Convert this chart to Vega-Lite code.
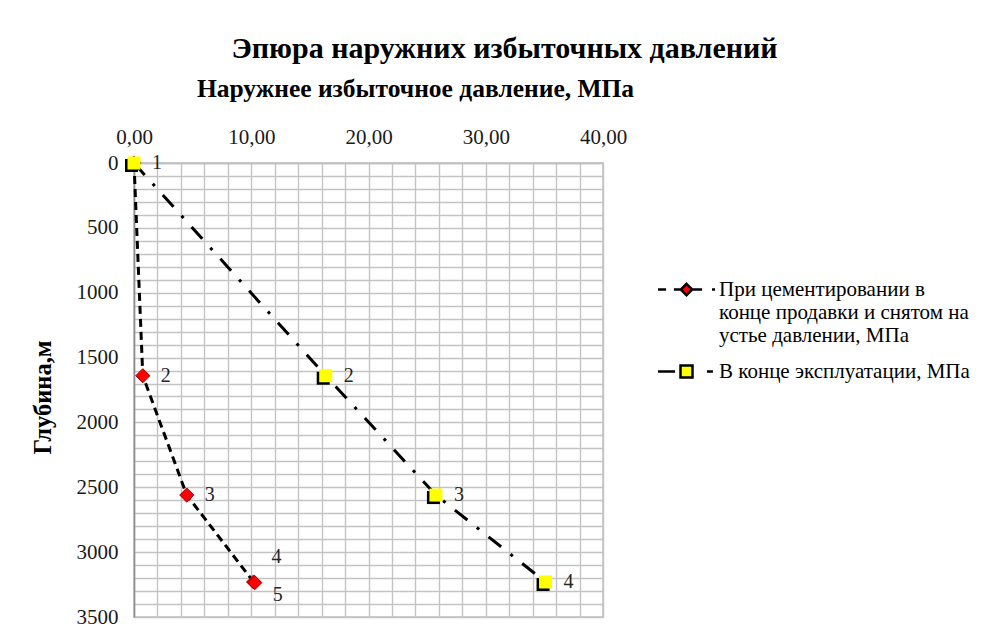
{
  "$schema": "https://vega.github.io/schema/vega-lite/v6.json",
  "autosize": {"type": "none"},
  "width": 469,
  "height": 454,
  "padding": {"left": 134, "top": 163, "right": 396, "bottom": 25},
  "background": "white",
  "title": {
    "text": "Эпюра наружних избыточных давлений",
    "font": "Liberation Serif",
    "fontSize": 30,
    "fontWeight": "bold",
    "color": "black",
    "anchor": "middle",
    "dx": 136,
    "offset": 12
  },
  "datasets": {
    "profile": [
      {"series": "При цементировании в конце продавки и снятом на устье давлении, МПа", "point": 1, "pressure": 0, "depth": 0},
      {"series": "При цементировании в конце продавки и снятом на устье давлении, МПа", "point": 2, "pressure": 0.75, "depth": 1640, "label": "2"},
      {"series": "При цементировании в конце продавки и снятом на устье давлении, МПа", "point": 3, "pressure": 4.5, "depth": 2560, "label": "3"},
      {"series": "При цементировании в конце продавки и снятом на устье давлении, МПа", "point": 4, "pressure": 10.2, "depth": 3230, "label": "4"},
      {"series": "При цементировании в конце продавки и снятом на устье давлении, МПа", "point": 5, "pressure": 10.3, "depth": 3235, "label": "5"},
      {"series": "В конце эксплуатации, МПа", "point": 1, "pressure": 0, "depth": 0, "label": "1"},
      {"series": "В конце эксплуатации, МПа", "point": 2, "pressure": 16.35, "depth": 1640, "label": "2"},
      {"series": "В конце эксплуатации, МПа", "point": 3, "pressure": 25.75, "depth": 2560, "label": "3"},
      {"series": "В конце эксплуатации, МПа", "point": 4, "pressure": 35.1, "depth": 3230, "label": "4"}
    ]
  },
  "data": {"name": "profile"},
  "encoding": {
    "x": {
      "field": "pressure",
      "type": "quantitative",
      "scale": {"domain": [0, 40], "nice": false, "zero": false},
      "axis": {
        "orient": "top",
        "title": "Наружнее избыточное давление, МПа",
        "titleFont": "Liberation Serif",
        "titleFontSize": 25.5,
        "titleFontWeight": "bold",
        "titleColor": "black",
        "titleAngle": 0,
        "titleAlign": "center",
        "titleBaseline": "middle",
        "titleX": 281,
        "titleY": -75,
        "values": [0, 2, 4, 6, 8, 10, 12, 14, 16, 18, 20, 22, 24, 26, 28, 30, 32, 34, 36, 38, 40],
        "format": ".2f",
        "labelExpr": "datum.value % 10 === 0 ? datum.label : ''",
        "labelOverlap": false,
        "labelFlush": false,
        "labelPadding": 16,
        "ticks": false,
        "domain": true,
        "domainColor": "#bfbfbf",
        "domainWidth": 1.5,
        "grid": true
      }
    },
    "y": {
      "field": "depth",
      "type": "quantitative",
      "scale": {"domain": [0, 3500], "reverse": true, "nice": false, "zero": false},
      "axis": {
        "title": "Глубина,м",
        "titleFont": "Liberation Serif",
        "titleFontSize": 24.5,
        "titleFontWeight": "bold",
        "titleColor": "black",
        "titleAngle": -90,
        "titleAlign": "center",
        "titleBaseline": "middle",
        "titleX": -91,
        "titleY": 234,
        "values": [0, 100, 200, 300, 400, 500, 600, 700, 800, 900, 1000, 1100, 1200, 1300, 1400, 1500, 1600, 1700, 1800, 1900, 2000, 2100, 2200, 2300, 2400, 2500, 2600, 2700, 2800, 2900, 3000, 3100, 3200, 3300, 3400, 3500],
        "format": "d",
        "labelExpr": "datum.value % 500 === 0 ? datum.label : ''",
        "labelOverlap": false,
        "labelPadding": 16,
        "ticks": false,
        "domain": true,
        "domainColor": "#8c8c8c",
        "domainWidth": 1.5,
        "grid": true
      }
    }
  },
  "layer": [
    {
      "transform": [{"filter": "false"}],
      "mark": {"type": "point", "filled": true, "opacity": 1},
      "encoding": {
        "color": {
          "field": "series",
          "type": "nominal",
          "scale": {
            "domain": ["При цементировании в конце продавки и снятом на устье давлении, МПа", "В конце эксплуатации, МПа"],
            "range": ["#ff0000", "#ffff00"]
          },
          "legend": {
            "orient": "none",
            "legendX": 520,
            "legendY": 116,
            "title": null,
            "padding": 0,
            "labelFont": "Liberation Serif",
            "labelFontSize": 21,
            "labelColor": "black",
            "labelLimit": 0,
            "labelBaseline": "middle",
            "labelLineHeight": 23.5,
            "labelOffset": 22,
            "labelExpr": "datum.value === 'При цементировании в конце продавки и снятом на устье давлении, МПа' ? ['При цементировании в', 'конце продавки и снятом на', 'устье давлении, МПа'] : datum.label",
            "symbolSize": 144,
            "symbolOffset": 22,
            "symbolStrokeWidth": 2.5,
            "symbolStrokeColor": "black",
            "rowPadding": 14
          }
        },
        "shape": {
          "field": "series",
          "type": "nominal",
          "scale": {
            "domain": ["При цементировании в конце продавки и снятом на устье давлении, МПа", "В конце эксплуатации, МПа"],
            "range": [
              "M-4.75,0H-3.4M-2.1,0H-1M0.9,0H2.6M4.25,0H4.75M0,-0.95L0.95,0L0,0.95L-0.95,0Z",
              "M-4.75,0H-1.9M3.4,0H4.4M-1,-1H1V1H-1Z"
            ]
          },
          "legend": {
            "orient": "none",
            "legendX": 520,
            "legendY": 116,
            "title": null,
            "padding": 0,
            "labelFont": "Liberation Serif",
            "labelFontSize": 21,
            "labelColor": "black",
            "labelLimit": 0,
            "labelBaseline": "middle",
            "labelLineHeight": 23.5,
            "labelOffset": 22,
            "labelExpr": "datum.value === 'При цементировании в конце продавки и снятом на устье давлении, МПа' ? ['При цементировании в', 'конце продавки и снятом на', 'устье давлении, МПа'] : datum.label",
            "symbolSize": 144,
            "symbolOffset": 22,
            "symbolStrokeWidth": 2.5,
            "symbolStrokeColor": "black",
            "rowPadding": 14
          }
        }
      }
    },
    {
      "transform": [{"filter": "datum.series === 'При цементировании в конце продавки и снятом на устье давлении, МПа'"}],
      "mark": {"type": "line", "color": "black", "strokeWidth": 3, "strokeDash": [8, 5]},
      "encoding": {"order": {"field": "depth", "type": "quantitative"}}
    },
    {
      "transform": [{"filter": "datum.series === 'В конце эксплуатации, МПа'"}],
      "mark": {"type": "line", "color": "black", "strokeWidth": 3, "strokeDash": [16, 12, 3, 12]},
      "encoding": {"order": {"field": "depth", "type": "quantitative"}}
    },
    {
      "transform": [{"filter": "datum.series === 'При цементировании в конце продавки и снятом на устье давлении, МПа'"}],
      "mark": {"type": "point", "shape": "diamond", "filled": true, "fill": "#ff0000", "stroke": "#a00000", "strokeWidth": 1, "size": 200, "opacity": 1}
    },
    {
      "transform": [{"filter": "datum.series === 'В конце эксплуатации, МПа'"}],
      "mark": {"type": "point", "shape": "square", "filled": true, "fill": "black", "size": 169, "opacity": 1, "xOffset": -2.5, "yOffset": 2.5}
    },
    {
      "transform": [{"filter": "datum.series === 'В конце эксплуатации, МПа'"}],
      "mark": {"type": "point", "shape": "square", "filled": true, "fill": "#ffff00", "size": 169, "opacity": 1}
    },
    {
      "transform": [{"filter": "isValid(datum.label) && !(datum.series === 'При цементировании в конце продавки и снятом на устье давлении, МПа' && datum.point >= 4)"}],
      "mark": {"type": "text", "align": "left", "baseline": "middle", "dx": 18, "font": "Liberation Serif", "fontSize": 20, "color": "#262626"},
      "encoding": {"text": {"field": "label"}}
    },
    {
      "transform": [{"filter": "datum.series === 'При цементировании в конце продавки и снятом на устье давлении, МПа' && datum.point === 4"}],
      "mark": {"type": "text", "align": "left", "baseline": "middle", "dx": 18, "dy": -25, "font": "Liberation Serif", "fontSize": 20, "color": "#262626"},
      "encoding": {"text": {"field": "label"}}
    },
    {
      "transform": [{"filter": "datum.series === 'При цементировании в конце продавки и снятом на устье давлении, МПа' && datum.point === 5"}],
      "mark": {"type": "text", "align": "left", "baseline": "middle", "dx": 18, "dy": 12, "font": "Liberation Serif", "fontSize": 20, "color": "#262626"},
      "encoding": {"text": {"field": "label"}}
    }
  ],
  "config": {
    "locale": {"number": {"decimal": ",", "thousands": " ", "grouping": [3], "currency": ["", ""]}},
    "view": {"stroke": "#bfbfbf", "strokeWidth": 1.5},
    "axis": {
      "labelFont": "Liberation Serif",
      "labelFontSize": 21,
      "labelColor": "#1a1a1a",
      "gridColor": "#c4c4c4",
      "gridWidth": 1.4,
      "gridOpacity": 1
    }
  }
}
